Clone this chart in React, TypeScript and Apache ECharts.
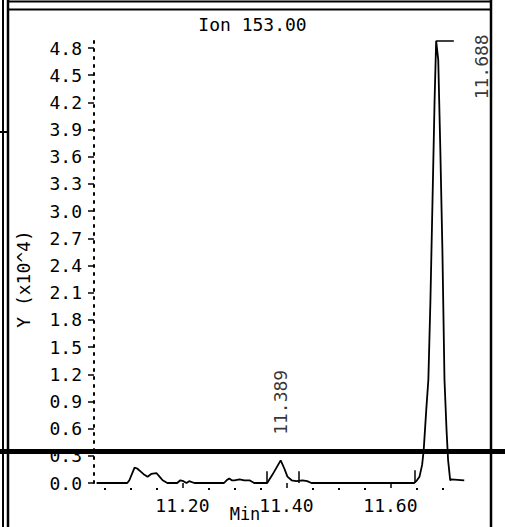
import React, { useEffect, useRef } from 'react';
import * as echarts from 'echarts';

// Retention time (min) and abundance (x10^4)
const times = [
  11.035, 11.094, 11.098, 11.108, 11.113, 11.121, 11.127, 11.133, 11.140, 11.150,
  11.156, 11.162, 11.171, 11.190, 11.196, 11.202, 11.208, 11.213, 11.223, 11.280,
  11.285, 11.290, 11.295, 11.300, 11.310, 11.319, 11.329, 11.338, 11.363, 11.373,
  11.389, 11.396, 11.402, 11.410, 11.419, 11.431, 11.440, 11.448, 11.646, 11.651,
  11.656, 11.661, 11.664, 11.669, 11.673, 11.677, 11.681, 11.685, 11.688, 11.692,
  11.696, 11.700, 11.704, 11.708, 11.711, 11.715, 11.717, 11.742,
];
const intensity = [
  0, 0, 0.03, 0.17, 0.16, 0.12, 0.09, 0.07, 0.10, 0.11,
  0.07, 0.03, 0, 0, 0.03, 0.02, 0, 0.02, 0, 0,
  0.03, 0.05, 0.03, 0.03, 0.04, 0.03, 0.03, 0, 0, 0.09,
  0.25, 0.16, 0.07, 0.03, 0.02, 0.03, 0.02, 0, 0, 0.03,
  0.07, 0.20, 0.36, 0.81, 1.14, 2.02, 3.12, 4.23, 4.88, 4.67,
  3.68, 2.57, 1.14, 0.58, 0.25, 0.03, 0.04, 0.03,
];

const peakTimes = [11.389, 11.688];
const peakHeights = [0.25, 4.88];

// integration markers (start/end of peaks)
const markerTimes = [11.362, 11.423, 11.646];
const markerHeights = [0.13, 0.13, 0.14];

const yTicks = [0, 0.3, 0.6, 0.9, 1.2, 1.5, 1.8, 2.1, 2.4, 2.7, 3.0, 3.3, 3.6, 3.9, 4.2, 4.5, 4.8];
const xMajorTicks = [11.2, 11.4, 11.6];
const xMinorTicks = [11.05, 11.1, 11.15, 11.25, 11.3, 11.35, 11.45, 11.5, 11.55, 11.65, 11.7];

const FONT = '"DejaVu Sans Mono", "Liberation Mono", monospace';

export default function App() {
  const ref = useRef<HTMLDivElement>(null);
  useEffect(() => {
    document.body.style.margin = '0';
    const chart = echarts.init(ref.current!, null, { renderer: 'svg' });
    const black = '#000';
    const labelOffsets = [[0, -25], [46, 59]];
    chart.setOption({
      animation: false,
      backgroundColor: '#fff',
      title: {
        text: 'Ion 153.00',
        left: 'center',
        top: 10,
        textStyle: { fontFamily: FONT, fontSize: 18, fontWeight: 'normal', color: black },
      },
      grid: { left: 94, right: 36.6, top: 39, bottom: 44 },
      xAxis: [
        {
          type: 'value', min: 11.03, max: 11.75, position: 'bottom', offset: 5,
          axisLine: { show: false }, splitLine: { show: false },
          axisTick: { show: true, customValues: xMajorTicks, length: 5, lineStyle: { color: black, width: 1.5 } },
          axisLabel: {
            customValues: xMajorTicks, formatter: (v: number) => v.toFixed(2), margin: 8,
            fontFamily: FONT, fontSize: 18, color: black,
          },
        },
        {
          type: 'value', min: 11.03, max: 11.75, position: 'bottom', offset: 5,
          axisLine: { show: false }, splitLine: { show: false },
          axisTick: { show: true, customValues: xMinorTicks, length: 2, lineStyle: { color: black, width: 2 } },
          axisLabel: { show: false },
        },
      ],
      yAxis: {
        type: 'value', min: 0, max: 4.9,
        axisLine: { show: true, lineStyle: { color: black, width: 2, type: [2, 6] } },
        axisTick: { show: true, customValues: yTicks, length: 6, lineStyle: { color: black, width: 1.5 } },
        axisLabel: {
          customValues: yTicks, formatter: (v: number) => v.toFixed(1), margin: 12,
          fontFamily: FONT, fontSize: 18, color: black,
        },
        splitLine: { show: false },
      },
      series: [
        {
          type: 'line',
          data: times.map((t, i) => [t, intensity[i]]),
          symbol: 'none',
          lineStyle: { color: black, width: 1.8 },
          silent: true,
          markLine: {
            silent: true,
            symbol: ['none', 'none'],
            label: { show: false },
            lineStyle: { color: black, width: 1.5, type: 'solid' },
            data: [
              ...markerTimes.map((t, i) => [{ coord: [t, 0] }, { coord: [t, markerHeights[i]] }]),
              [{ coord: [peakTimes[1], peakHeights[1]] }, { coord: [peakTimes[1] + 0.034, peakHeights[1]] }],
              [{ coord: [peakTimes[1], peakHeights[1] - 0.13] }, { coord: [peakTimes[1], peakHeights[1] + 0.05] }],
            ],
          },
        },
        {
          type: 'scatter',
          symbolSize: 1,
          itemStyle: { color: 'rgba(0,0,0,0)' },
          silent: true,
          data: peakTimes.map((t, i) => ({
            value: [t, peakHeights[i]],
            label: {
              show: true,
              formatter: t.toFixed(3),
              rotate: 90,
              position: labelOffsets[i],
              align: 'left',
              verticalAlign: 'middle',
              fontFamily: FONT,
              fontSize: 18,
              color: black,
            },
          })),
        },
      ],
      graphic: [
        { type: 'line', shape: { x1: 8, y1: 0, x2: 8, y2: 527 }, style: { stroke: black, lineWidth: 2.5 } },
        { type: 'line', shape: { x1: 3, y1: 0, x2: 3, y2: 527 }, style: { stroke: black, lineWidth: 2 } },
        { type: 'line', shape: { x1: 0, y1: 132, x2: 8, y2: 132 }, style: { stroke: black, lineWidth: 2 } },
        { type: 'line', shape: { x1: 491, y1: 0, x2: 491, y2: 527 }, style: { stroke: black, lineWidth: 2.5 } },
        { type: 'line', shape: { x1: 7, y1: 1.5, x2: 491, y2: 1.5 }, style: { stroke: black, lineWidth: 2 } },
        { type: 'line', shape: { x1: 7, y1: 9.5, x2: 491, y2: 9.5 }, style: { stroke: black, lineWidth: 2 } },
        { type: 'rect', shape: { x: 0, y: 449, width: 505, height: 5 }, style: { fill: black }, z: 100 },
        {
          type: 'text', x: 23, y: 279, rotation: Math.PI / 2,
          style: { text: 'Y (x10^4)', font: `18px ${FONT}`, fill: black, align: 'center', verticalAlign: 'middle' },
        },
        {
          type: 'text', x: 245, y: 505,
          style: { text: 'Min', font: `17px ${FONT}`, fill: black, align: 'center', verticalAlign: 'top' },
        },
      ],
    });
    return () => chart.dispose();
  }, []);
  return <div ref={ref} style={{ width: 505, height: 527 }} />;
}
